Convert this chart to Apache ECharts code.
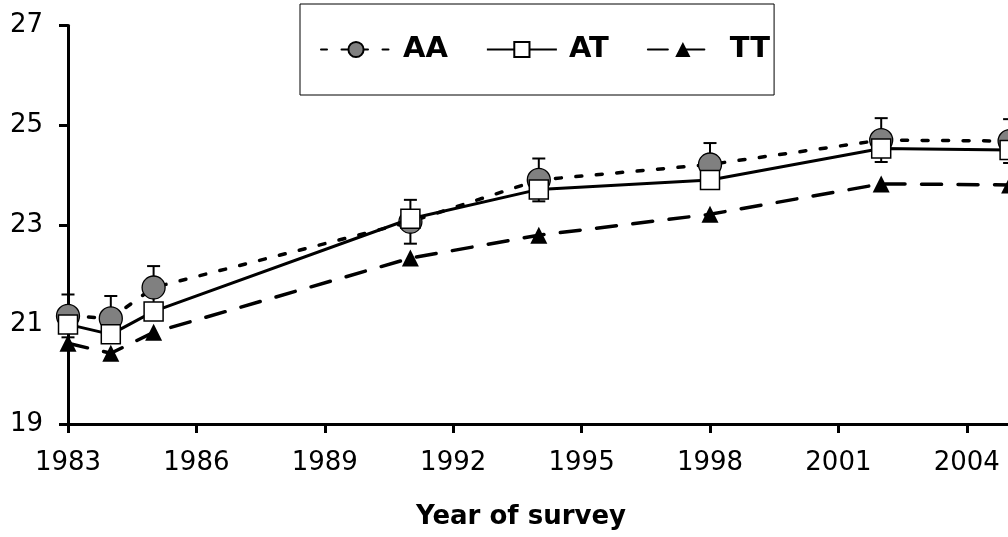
<!DOCTYPE html>
<html>
<head>
<meta charset="utf-8">
<script src="https://cdn.jsdelivr.net/npm/echarts@6/dist/echarts.min.js"></script>
<style>
  html, body { margin: 0; padding: 0; background: #fff; overflow: hidden; }
  /* drawing surface is wider than the page so the plot runs off the right edge */
  #chart { width: 1100px; height: 537px; }
</style>
</head>
<body>
<div id="chart"></div>
<script>
// Survey years and mean values per genotype
const years = [1983, 1984, 1985, 1991, 1994, 1998, 2002, 2005];
const seriesAA = [21.17, 21.12, 21.74, 23.06, 23.90, 24.21, 24.70, 24.68];
const seriesAT = [21.00, 20.80, 21.26, 23.12, 23.71, 23.90, 24.53, 24.50];
const seriesTT = [20.62, 20.42, 20.84, 22.33, 22.79, 23.21, 23.82, 23.80];
// Error (± half-range) on the AA means
const errAA = [0.43, 0.45, 0.43, 0.44, 0.43, 0.43, 0.44, 0.44];
const yTicks = [19, 21, 23, 25, 27];
const xTickStart = 1983, xTickStep = 3, xEnd = 2007;

const FONT = "'DejaVu Sans', Verdana, sans-serif";

const pairs = arr => years.map((y, i) => [y, arr[i]]);
const errData = years.map((y, i) => [y, seriesAA[i] - errAA[i], seriesAA[i] + errAA[i]]);

const chart = echarts.init(document.getElementById('chart'), null, { renderer: 'canvas' });

chart.setOption({
  animation: false,
  backgroundColor: '#ffffff',
  grid: { left: 68, top: 25.5, width: 1027.2, height: 398.5, containLabel: false, outerBoundsMode: 'none' },
  xAxis: {
    type: 'value',
    min: xTickStart,
    max: xEnd,
    interval: xTickStep,
    axisLine: { lineStyle: { color: '#000', width: 3 } },
    axisTick: { show: true, inside: false, length: 9, lineStyle: { color: '#000', width: 3 } },
    axisLabel: { color: '#000', fontSize: 26, fontFamily: FONT, margin: 26, formatter: v => String(v) },
    splitLine: { show: false }
  },
  yAxis: {
    type: 'value',
    min: yTicks[0],
    max: yTicks[yTicks.length - 1],
    interval: yTicks[1] - yTicks[0],
    axisLine: { show: true, lineStyle: { color: '#000', width: 3 } },
    axisTick: { show: true, inside: false, length: 9, lineStyle: { color: '#000', width: 3 } },
    axisLabel: { color: '#000', fontSize: 26, fontFamily: FONT, margin: 25 },
    splitLine: { show: false }
  },
  legend: {
    left: 300,
    top: 4,
    orient: 'horizontal',
    data: ['AA', 'AT', 'TT'],
    itemWidth: 70,
    itemHeight: 19,
    itemGap: 38,
    padding: [31, 4, 31, 20],
    borderColor: '#000',
    borderWidth: 1,
    backgroundColor: '#fff',
    textStyle: { color: '#000', fontSize: 29, fontWeight: 'bold', fontFamily: FONT, padding: [0, 0, 0, 7] }
  },
  graphic: [{
    type: 'text',
    x: 521,
    y: 517,
    style: {
      text: 'Year of survey',
      fill: '#000',
      font: "bold 26px " + FONT,
      textAlign: 'center',
      textVerticalAlign: 'middle'
    }
  }],
  series: [
    {
      name: 'AAerr',
      type: 'custom',
      z: 1,
      silent: true,
      data: errData,
      encode: { x: 0, y: [1, 2] },
      renderItem: function (params, api) {
        const x = api.value(0);
        const lo = api.coord([x, api.value(1)]);
        const hi = api.coord([x, api.value(2)]);
        const cap = 6.5;
        const st = { stroke: '#000', lineWidth: 2 };
        return {
          type: 'group',
          children: [
            { type: 'line', shape: { x1: lo[0], y1: lo[1], x2: hi[0], y2: hi[1] }, style: st },
            { type: 'line', shape: { x1: hi[0] - cap, y1: hi[1], x2: hi[0] + cap, y2: hi[1] }, style: st },
            { type: 'line', shape: { x1: lo[0] - cap, y1: lo[1], x2: lo[0] + cap, y2: lo[1] }, style: st }
          ]
        };
      }
    },
    {
      name: 'AA',
      type: 'line',
      z: 2,
      data: pairs(seriesAA),
      symbol: 'circle',
      symbolSize: 23,
      showAllSymbol: true,
      lineStyle: { color: '#000', width: 3.5, type: [6, 14.5], cap: 'round' },
      itemStyle: { color: '#808080', borderColor: '#000', borderWidth: 1.3 }
    },
    {
      name: 'AT',
      type: 'line',
      z: 3,
      data: pairs(seriesAT),
      symbol: 'rect',
      symbolSize: 19,
      showAllSymbol: true,
      lineStyle: { color: '#000', width: 3 },
      itemStyle: { color: '#fff', borderColor: '#000', borderWidth: 1.5 }
    },
    {
      name: 'TT',
      type: 'line',
      z: 4,
      data: pairs(seriesTT),
      symbol: 'triangle',
      symbolSize: 17,
      showAllSymbol: true,
      lineStyle: { color: '#000', width: 3.5, type: [20, 16.5], cap: 'round' },
      itemStyle: { color: '#000', borderColor: '#000', borderWidth: 0 }
    }
  ]
});
</script>
</body>
</html>
